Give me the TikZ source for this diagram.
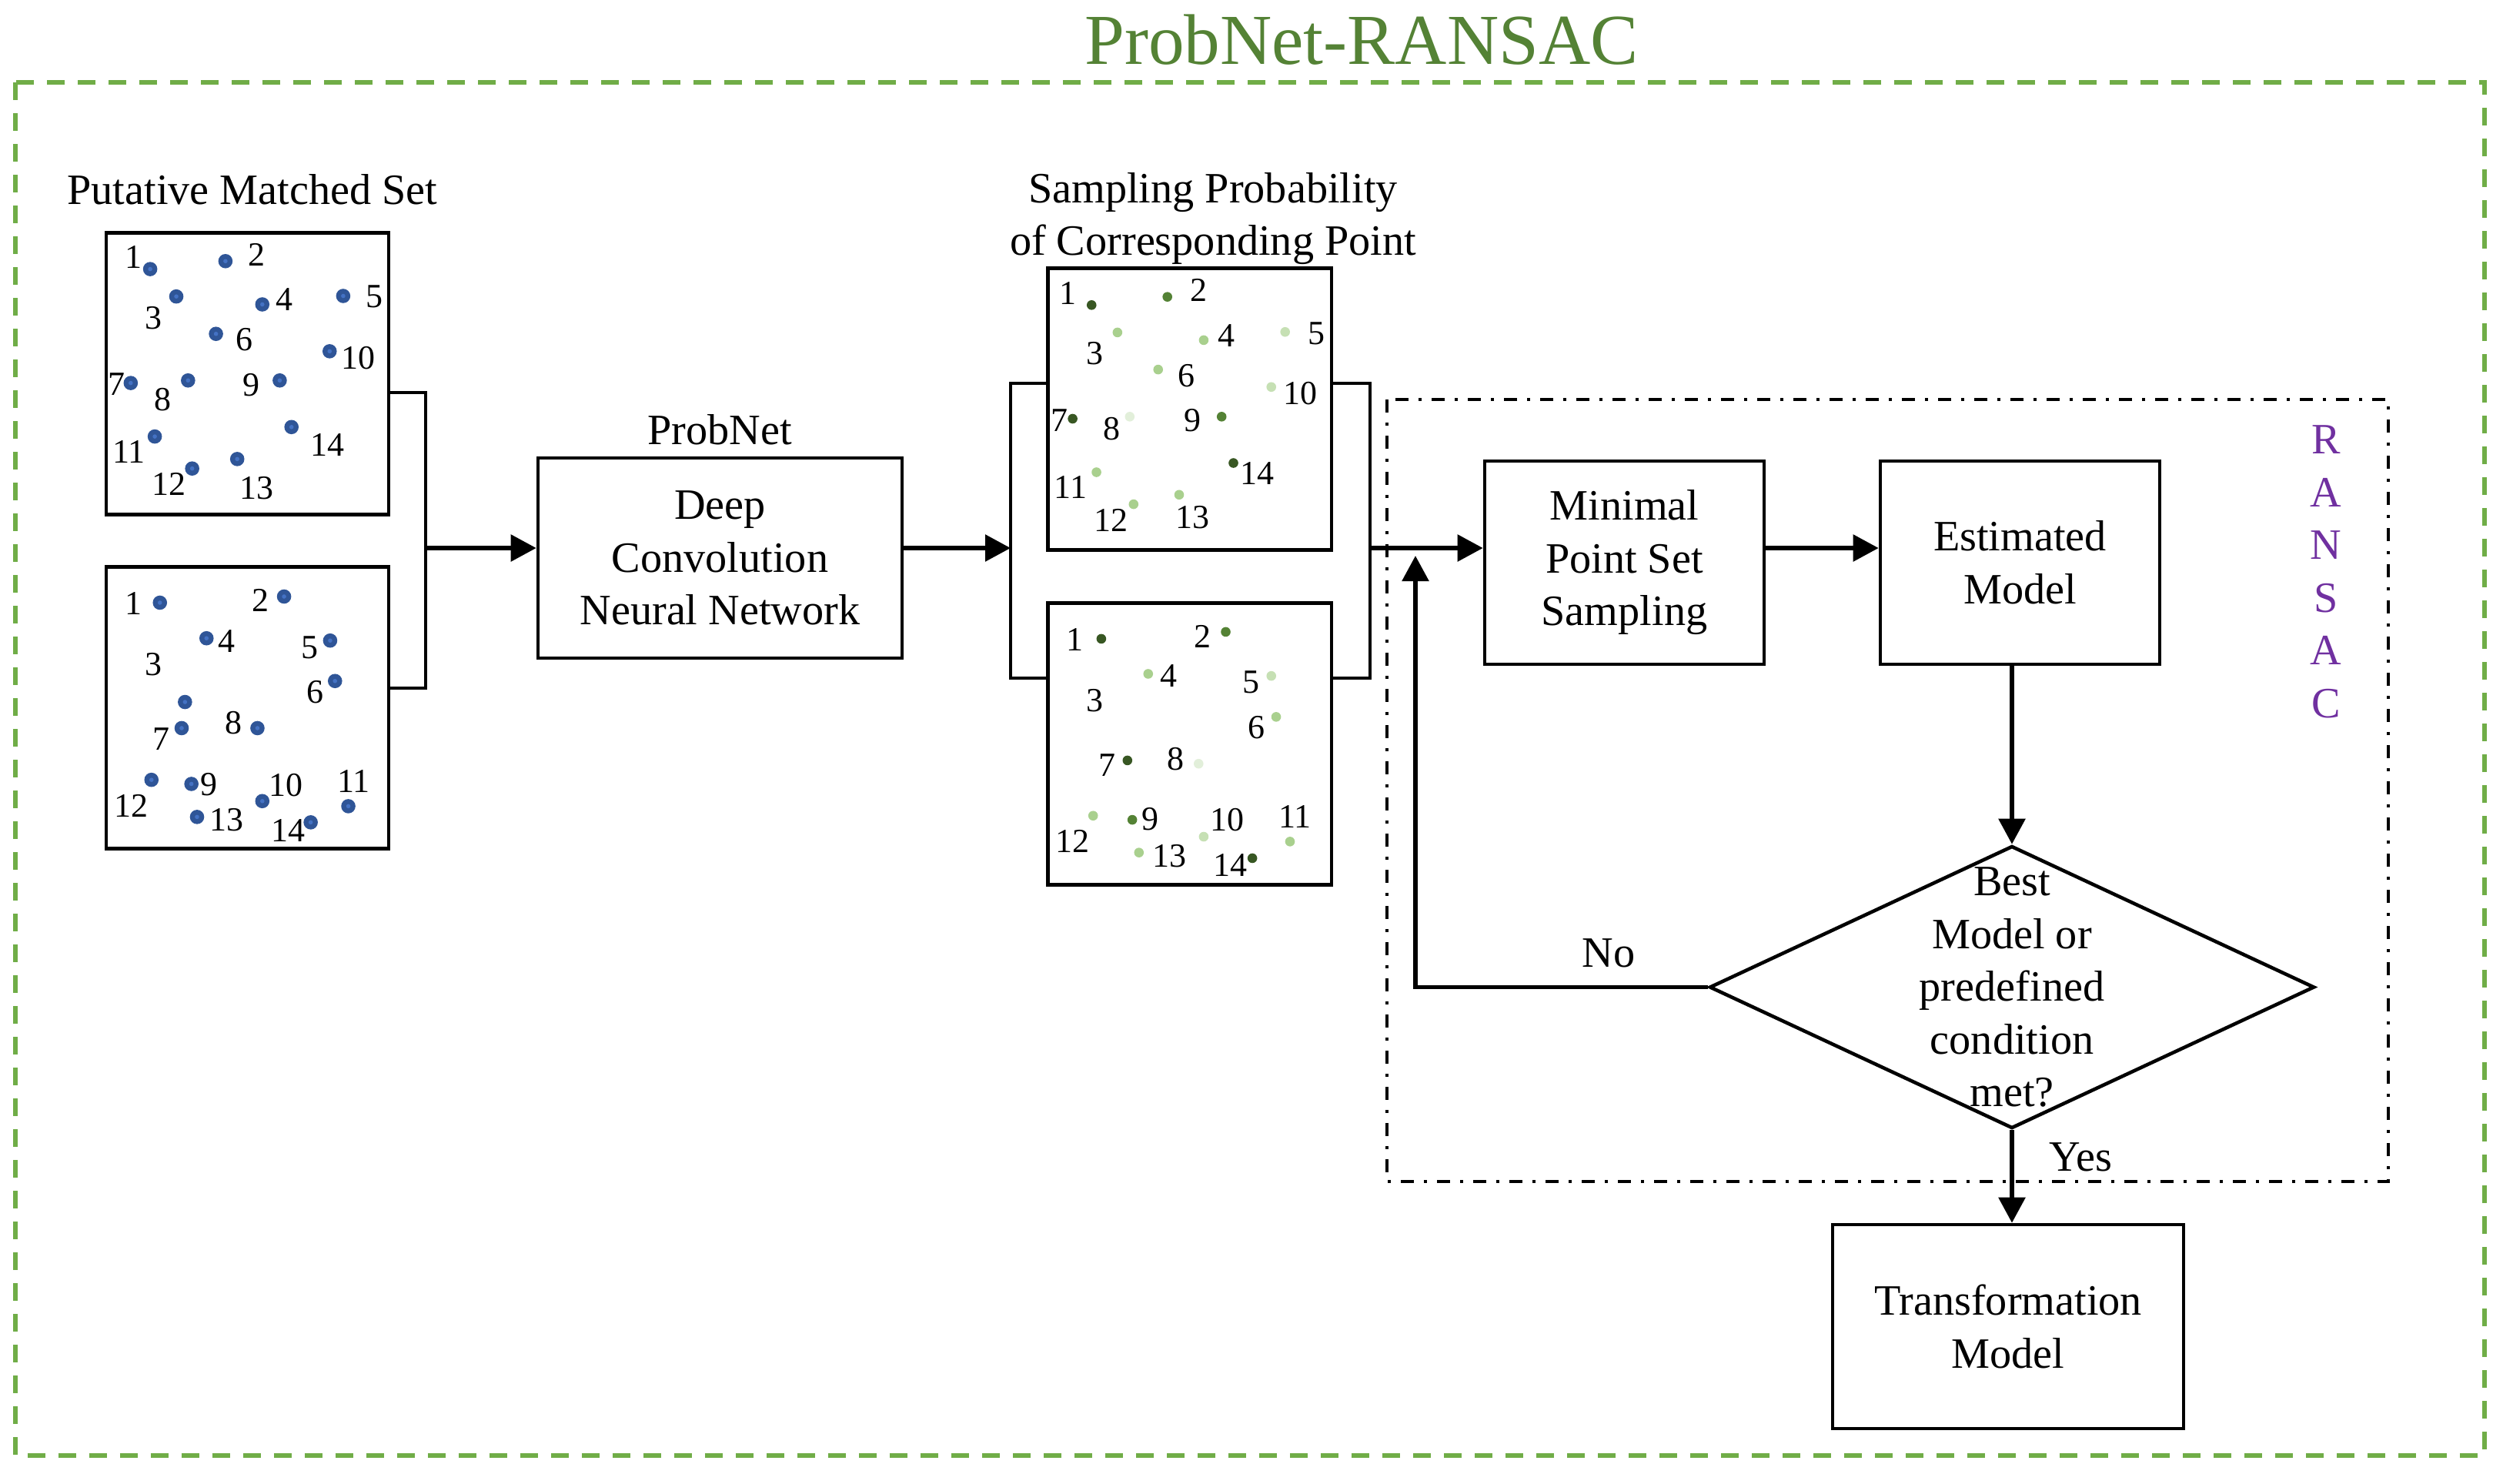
\documentclass[tikz,border=0pt]{standalone}
\usepackage{fontspec}
\setmainfont{Liberation Serif}
\usetikzlibrary{arrows.meta}
\usetikzlibrary{shapes.geometric}
\usetikzlibrary{calc}
\definecolor{frameGreen}{HTML}{70AD47}
\definecolor{titleGreen}{HTML}{548235}
\definecolor{ransacPurple}{HTML}{7030A0}
\definecolor{dotBlue}{HTML}{2F5597}
\definecolor{dotCore}{HTML}{4472C4}
\definecolor{pd}{HTML}{385723}
\definecolor{pm}{HTML}{548235}
\definecolor{pl}{HTML}{A9D08E}
\definecolor{pp}{HTML}{C6E0B4}
\definecolor{pv}{HTML}{E2EFDA}
\newcommand{\bodyfont}{\fontsize{16}{19.5}\selectfont}

\begin{document}
\begin{tikzpicture}[>={Triangle[length=3.3mm,width=3.4mm]},
		box/.style={rectangle,draw=black,line width=1.3pt,inner sep=0pt,align=center,font=\bodyfont},
		setbox/.style={box,minimum width=3.67cm,minimum height=3.66cm},
		flow/.style={->,line width=1.6pt},
		bracket/.style={line width=0.9pt},
		txt/.style={font=\bodyfont,align=center,inner sep=0pt},
		num/.style={font=\fontsize{12.5}{14}\selectfont,inner sep=0pt}]
		\useasboundingbox (0,0) rectangle (32.52,-19.27);
		
		% outer frame and title
		\draw[frameGreen,line width=1.5pt,dash pattern=on 2.3mm off 1.7mm] (0.20,-1.07) rectangle (32.28,-18.91);
		\node[txt,font=\fontsize{26.5}{30}\selectfont,text=titleGreen] (title) at (17.69,-0.52) {ProbNet-RANSAC};
		
		% matched sets and probnet
		\node[txt]    (puttitle)  at (3.28,-2.46)     {Putative Matched Set};
		\node[setbox] (set1)      at (3.217,-4.853)   {};
		\node[setbox] (set2)      at (3.217,-9.197)   {};
		\node[txt]    (nettitle)  at (9.35,-5.58)     {ProbNet};
		\node[box,minimum width=4.73cm,minimum height=2.6cm] (probnet) at (9.355,-7.25) {Deep\\Convolution\\Neural Network};
		\node[txt]    (probtitle) at (15.76,-2.84)    {Sampling Probability\\of Corresponding Point};
		\node[setbox,minimum width=3.683cm] (prob1) at (15.458,-5.317) {};
		\node[setbox,minimum width=3.683cm] (prob2) at (15.458,-9.663) {};
		
		% ransac loop
		\draw[line width=1.2pt,dash pattern=on 1.7mm off 1.3mm on 0.4mm off 1.3mm] (18.02,-5.19) rectangle (31.03,-15.35);
		\node[txt,text=ransacPurple] (ransac) at (30.22,-7.43) {R\\A\\N\\S\\A\\C};
		\node[box,minimum width=3.63cm,minimum height=2.64cm] (minimal)   at (21.105,-7.31) {Minimal\\Point Set\\Sampling};
		\node[box,minimum width=3.63cm,minimum height=2.64cm] (estimated) at (26.245,-7.31) {Estimated\\Model};
		\node[diamond,draw,line width=1.3pt,inner sep=0pt,minimum width=7.86cm,minimum height=3.67cm] (decision) at (26.14,-12.825) {};
		\node[txt] (dectext) at (decision.center) {Best\\Model or\\predefined\\condition\\met?};
		\node[box,minimum width=4.56cm,minimum height=2.65cm] (transform) at (26.09,-17.235) {Transformation\\Model};
		
		\coordinate (jl) at (5.53,-7.12);
		\coordinate (jm) at (13.13,-7.12);
		\coordinate (jr) at (17.80,-7.12);
		\coordinate (noend) at (18.39,-7.22);
		
		\draw[bracket] ([yshift=-2.47mm]set1.east) -| (jl) |- ([yshift=2.57mm]set2.east);
		\draw[flow] (jl) -- (jl -| probnet.west);
		\draw[flow] (probnet.east |- jm) -- (jm);
		\draw[bracket] ([yshift=3.37mm]prob1.west) -| (jm) |- ([yshift=8.53mm]prob2.west);
		\draw[bracket] ([yshift=3.37mm]prob1.east) -| (jr) |- ([yshift=8.53mm]prob2.east);
		\draw[flow] (jr) -- (jr -| minimal.west);
		\draw[flow] (minimal.east |- jr) -- (estimated.west |- jr);
		\draw[flow] (decision.north |- estimated.south) -- (decision.north);
		\draw[flow] (decision.west) -| (noend);
		\draw[flow] (decision.south) -- (decision.south |- transform.north);
		\node[txt] (no)  at (20.9,-12.38)  {No};
		\node[txt] (yes) at (27.03,-15.03) {Yes};
		
		% points of the two matched sets
		\begin{scope}[shift={(set1.north west)},x=0.003333cm,y=-0.003333cm]
		\foreach \dx/\dy/\lx/\ly/\n in {178/149/113/102/1,472/118/595/92/2,280/256/190/340/3,
			616/287/703/267/4,932/254/1055/257/5,435/402/547/424/6,102/594/48/600/7,
			326/584/228/660/8,684/584/572/602/9,879/470/990/497/10,196/803/95/862/11,
			342/928/250/990/12,518/891/595/1004/13,730/766/870/837/14}{
			\fill[dotBlue] (\dx,\dy) circle (0.093cm);
			\fill[dotCore] (\dx,\dy) circle (0.028cm);
			\node[num] (s1-\n) at (\lx,\ly) {\n};
		}
		\end{scope}
		\begin{scope}[shift={(set2.north west)},x=0.003333cm,y=-0.003333cm]
		\foreach \dx/\dy/\lx/\ly/\n in {216/146/113/150/1,701/122/610/138/2,314/534/190/388/3,
			398/285/478/295/4,881/294/800/320/5,900/452/822/495/6,301/636/220/680/7,
			597/636/503/615/8,339/854/407/855/9,616/921/708/858/10,952/941/972/843/11,
			183/838/103/940/12,361/983/478/995/13,805/1004/718/1035/14}{
			\fill[dotBlue] (\dx,\dy) circle (0.093cm);
			\fill[dotCore] (\dx,\dy) circle (0.028cm);
			\node[num] (s2-\n) at (\lx,\ly) {\n};
		}
		\end{scope}
		
		% points shaded by sampling probability
		\begin{scope}[shift={(prob1.north west)},x=0.003333cm,y=-0.003333cm]
		\foreach \dx/\dy/\lx/\ly/\n/\c in {177/150/85/105/1/pd,473/118/595/93/2/pm,278/257/190/340/3/pl,
			615/287/703/270/4/pl,933/255/1055/260/5/pp,437/402/547/425/6/pl,103/594/50/600/7/pd,
			326/586/257/633/8/pv,685/586/572/600/9/pm,879/470/992/495/10/pp,196/803/95/863/11/pl,
			341/928/253/990/12/pl,519/891/573/980/13/pl,731/767/825/807/14/pd}{
			\fill[\c] (\dx,\dy) circle (0.063cm);
			\node[num] (p1-\n) at (\lx,\ly) {\n};
		}
		\end{scope}
		\begin{scope}[shift={(prob2.north west)},x=0.003333cm,y=-0.003333cm]
		\foreach \dx/\dy/\lx/\ly/\n/\c in {215/147/113/150/1/pd,701/120/610/137/2/pm,
			398/284/478/292/4/pl,879/292/800/317/5/pp,898/452/822/492/6/pl,317/622/237/642/7/pd,
			595/635/505/617/8/pv,336/854/407/852/9/pm,615/920/708/855/10/pp,952/939/972/842/11/pl,
			183/838/103/937/12/pl,362/982/480/997/13/pl,805/1004/718/1032/14/pd}{
			\fill[\c] (\dx,\dy) circle (0.063cm);
			\node[num] (p2-\n) at (\lx,\ly) {\n};
		}
		\node[num] (p2-3) at (190,387) {3};
		\end{scope}
\end{tikzpicture}
\end{document}
